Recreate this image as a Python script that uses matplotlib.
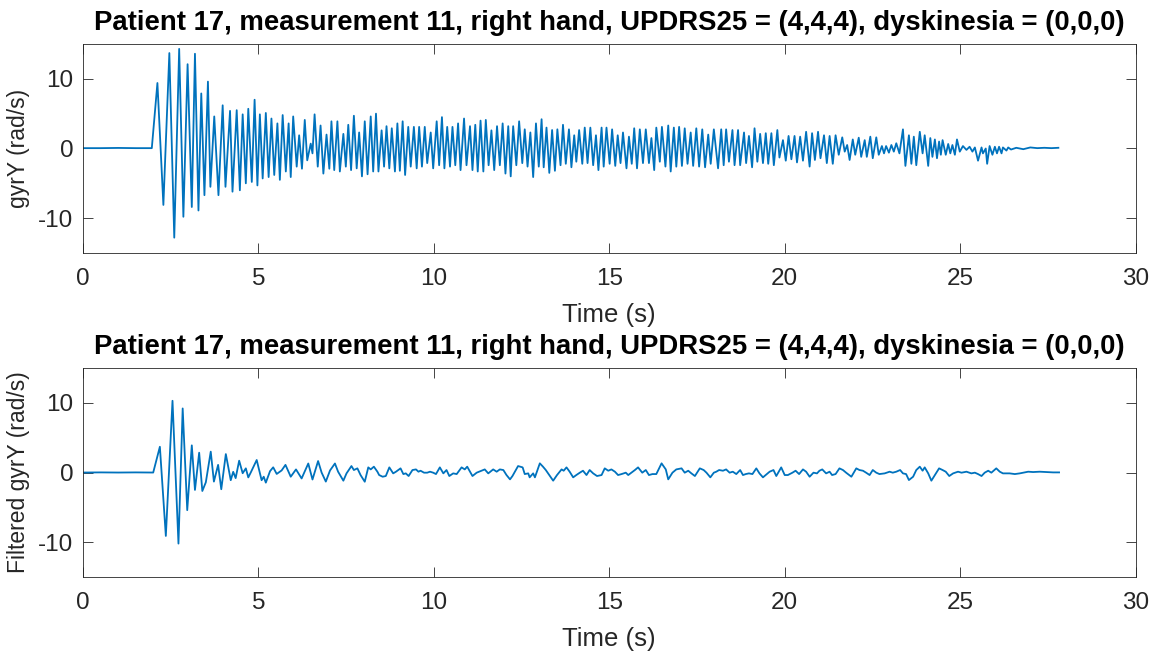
import numpy as np
import matplotlib
matplotlib.use("Agg")
import matplotlib.pyplot as plt

top_t = [0.00, 0.50, 1.00, 1.50, 1.96, 2.12, 2.29, 2.46, 2.60, 2.74, 2.86, 2.98, 3.10, 3.19, 3.29,
         3.37, 3.46, 3.56, 3.63, 3.74, 3.86, 3.98, 4.06, 4.19, 4.26, 4.38, 4.47, 4.55, 4.64, 4.71,
         4.81, 4.89, 4.97, 5.04, 5.12, 5.21, 5.29, 5.37, 5.45, 5.54, 5.61, 5.69, 5.78, 5.86, 5.92,
         5.99, 6.09, 6.16, 6.24, 6.32, 6.39, 6.49, 6.54, 6.60, 6.69, 6.77, 6.85, 6.94, 7.02, 7.08,
         7.16, 7.25, 7.32, 7.42, 7.49, 7.56, 7.64, 7.72, 7.80, 7.87, 7.95, 8.03, 8.11, 8.20, 8.27,
         8.35, 8.42, 8.51, 8.58, 8.65, 8.73, 8.80, 8.89, 8.96, 9.03, 9.11, 9.18, 9.27, 9.34, 9.43,
         9.51, 9.58, 9.66, 9.74, 9.81, 9.91, 9.98, 10.08, 10.15, 10.23, 10.30, 10.38, 10.46, 10.53,
         10.61, 10.69, 10.76, 10.86, 10.93, 11.03, 11.10, 11.18, 11.25, 11.33, 11.41, 11.48, 11.56,
         11.64, 11.72, 11.80, 11.88, 11.96, 12.04, 12.12, 12.19, 12.26, 12.35, 12.43, 12.52, 12.59,
         12.67, 12.75, 12.83, 12.91, 12.99, 13.07, 13.13, 13.21, 13.29, 13.37, 13.45, 13.52, 13.61,
         13.68, 13.76, 13.85, 13.92, 14.00, 14.06, 14.14, 14.23, 14.30, 14.38, 14.46, 14.54, 14.62,
         14.69, 14.78, 14.84, 14.92, 15.01, 15.08, 15.17, 15.24, 15.32, 15.39, 15.49, 15.56, 15.64,
         15.71, 15.79, 15.87, 15.96, 16.04, 16.13, 16.20, 16.28, 16.34, 16.44, 16.50, 16.60, 16.68,
         16.75, 16.84, 16.91, 16.99, 17.07, 17.15, 17.23, 17.32, 17.39, 17.48, 17.56, 17.65, 17.73,
         17.82, 17.89, 17.98, 18.10, 18.19, 18.26, 18.33, 18.41, 18.51, 18.57, 18.67, 18.73, 18.84,
         18.90, 18.98, 19.07, 19.14, 19.22, 19.30, 19.38, 19.46, 19.53, 19.62, 19.69, 19.79, 19.85,
         19.95, 20.03, 20.11, 20.19, 20.28, 20.35, 20.44, 20.52, 20.61, 20.71, 20.78, 20.86, 20.95,
         21.02, 21.12, 21.20, 21.28, 21.37, 21.45, 21.54, 21.64, 21.71, 21.78, 21.85, 21.94, 22.01,
         22.11, 22.18, 22.28, 22.34, 22.44, 22.51, 22.61, 22.68, 22.77, 22.83, 22.89, 22.97, 23.04,
         23.11, 23.18, 23.27, 23.37, 23.44, 23.54, 23.61, 23.68, 23.75, 23.85, 23.93, 23.99, 24.09,
         24.15, 24.21, 24.28, 24.34, 24.40, 24.45, 24.50, 24.59, 24.66, 24.72, 24.78, 24.85, 24.91,
         24.99, 25.08, 25.18, 25.27, 25.35, 25.42, 25.51, 25.61, 25.65, 25.73, 25.77, 25.84, 25.92,
         25.99, 26.05, 26.11, 26.18, 26.22, 26.32, 26.37, 26.45, 26.60, 26.80, 27.00, 27.20, 27.40,
         27.60, 27.80]
top_v = [0.05, 0.05, 0.08, 0.05, 0.05, 9.4, -8.1, 13.7, -12.8, 14.3, -9.8, 12.1, -8.4, 13.6, -8.9,
         7.9, -6.7, 9.6, -5.5, 4.6, -6.7, 6.2, -5.5, 5.4, -6.2, 5.5, -6.0, 4.9, -5.0, 5.7,
         -4.8, 7.0, -5.3, 4.9, -4.3, 5.1, -4.1, 4.3, -3.8, 3.6, -4.5, 4.8, -3.3, 3.6, -4.1,
         4.6, -2.6, 1.9, -2.9, 4.1, -1.7, 0.7, -0.7, 4.9, -2.6, 3.3, -3.6, 2.0, -2.9, 3.9,
         -3.1, 3.9, -3.3, 2.1, -2.6, 3.4, -3.1, 4.7, -2.85, 2.3, -4.0, 3.9, -3.7, 4.6, -3.3,
         5.0, -3.3, 2.6, -2.6, 3.2, -2.85, 2.9, -3.3, 3.6, -3.2, 3.9, -3.8, 3.1, -2.6, 3.1,
         -2.85, 3.1, -2.6, 3.1, -2.1, 2.3, -2.85, 3.9, -2.4, 4.5, -2.85, 3.1, -2.6, 3.1,
         -2.4, 3.6, -3.1, 4.3, -2.4, 3.2, -3.1, 3.4, -3.3, 4.0, -3.3, 4.1, -2.4,
         2.6, -3.1, 3.2, -2.4, 3.6, -3.6, 3.2, -4.0, 3.2, -2.4, 3.9, -2.1, 2.75,
         -2.6, 2.3, -4.1, 3.6, -2.6, 4.2, -2.7, 3.0, -3.5, 2.65, -3.2, 2.75, -2.4,
         3.4, -2.2, 2.75, -2.7, 1.9, -1.9, 2.65, -2.2, 3.0, -2.1, 3.0, -2.4, 1.9,
         -3.1, 3.0, -2.6, 3.0, -2.2, 2.75, -2.5, 1.9, -2.1, 2.3, -2.85, 1.7, -2.2,
         2.9, -2.85, 2.75, -2.1, 2.75, -2.1, 1.5, -3.1, 3.0, -1.9, 3.1, -2.6, 3.3,
         -3.3, 3.0, -2.6, 3.1, -2.5, 2.9, -2.2, 2.3, -2.5, 2.9, -2.6, 2.75, -2.7,
         2.0, -2.2, 2.75, -2.85, 2.75, -2.4, 2.75, -1.9, 2.65, -2.4, 2.65, -2.4, 2.3,
         -2.1, 1.8, -2.7, 2.9, -1.9, 2.1, -2.1, 2.2, -2.2, 2.2, -2.4, 2.65, -1.3,
         1.2, -1.75, 1.8, -1.55, 1.8, -2.0, 1.7, -1.75, 2.4, -2.6, 2.2, -1.65, 2.4,
         -1.4, 1.9, -2.1, 1.8, -2.2, 1.9, -0.9, 1.6, -0.45, 0.5, -1.65, 1.3, -0.9,
         1.55, -1.2, 1.2, -1.2, 1.7, -1.4, 1.6, -0.9, 0.35, -0.7, 0.35, -0.6, 0.5,
         -0.45, 0.75, -0.7, 2.75, -2.5, 1.9, -2.2, 1.7, -2.4, 2.4, -0.7, 1.9, -2.5,
         1.5, -1.2, 1.3, -1.4, 1.0, -0.9, 1.2, -0.9, 0.65, -0.7, 0.5, -0.9, 1.3,
         -0.45, 0.35, -0.2, 0.25, -0.45, 0.15, -1.75, 0.15, -0.7, 0.0, -2.2, 0.35, -0.9,
         0.25, -0.7, 0.25, -0.7, 0.15, -0.3, 0.15, -0.15, 0.1, -0.1, 0.15, 0.05, 0.1,
         0.05, 0.1]

# filtered signal, same way of reading
bot_t = [0.00, 0.50, 1.00, 1.50, 2.00, 2.19, 2.36, 2.55, 2.72, 2.84, 2.97, 3.10, 3.19, 3.31, 3.40,
         3.50, 3.64, 3.73, 3.85, 3.94, 4.07, 4.21, 4.28, 4.35, 4.45, 4.55, 4.64, 4.71, 4.78, 4.95,
         5.09, 5.15, 5.21, 5.33, 5.42, 5.52, 5.66, 5.77, 5.92, 6.07, 6.23, 6.42, 6.54, 6.70, 6.80,
         6.92, 7.04, 7.18, 7.27, 7.42, 7.51, 7.65, 7.72, 7.82, 7.91, 8.03, 8.13, 8.20, 8.29, 8.39,
         8.44, 8.54, 8.63, 8.73, 8.84, 8.92, 9.05, 9.13, 9.20, 9.28, 9.39, 9.49, 9.56, 9.62, 9.72,
         9.81, 9.89, 9.98, 10.06, 10.17, 10.27, 10.36, 10.44, 10.55, 10.65, 10.79, 10.88, 10.95,
         11.03, 11.10, 11.22, 11.36, 11.45, 11.55, 11.69, 11.79, 11.88, 11.98, 12.07, 12.17, 12.24,
         12.40, 12.53, 12.59, 12.69, 12.73, 12.83, 12.88, 13.02, 13.11, 13.19, 13.29, 13.40, 13.51,
         13.64, 13.70, 13.78, 13.87, 13.97, 14.06, 14.16, 14.25, 14.35, 14.44, 14.54, 14.65, 14.78,
         14.87, 14.97, 15.06, 15.16, 15.25, 15.35, 15.47, 15.54, 15.73, 15.82, 15.94, 16.04, 16.13,
         16.23, 16.34, 16.49, 16.61, 16.68, 16.80, 16.91, 17.06, 17.15, 17.25, 17.34, 17.44, 17.58,
         17.69, 17.77, 17.88, 17.98, 18.05, 18.13, 18.24, 18.33, 18.43, 18.52, 18.62, 18.73, 18.81,
         18.89, 18.98, 19.08, 19.19, 19.28, 19.38, 19.49, 19.57, 19.68, 19.76, 19.90, 20.00, 20.09,
         20.22, 20.31, 20.41, 20.52, 20.61, 20.71, 20.82, 20.92, 20.99, 21.07, 21.18, 21.28, 21.35,
         21.45, 21.56, 21.66, 21.75, 21.90, 22.04, 22.13, 22.23, 22.32, 22.42, 22.51, 22.61, 22.70,
         22.85, 22.99, 23.08, 23.18, 23.29, 23.37, 23.46, 23.54, 23.66, 23.75, 23.85, 23.93, 23.99,
         24.09, 24.18, 24.28, 24.40, 24.50, 24.59, 24.69, 24.80, 24.94, 25.04, 25.18, 25.32, 25.42,
         25.51, 25.61, 25.70, 25.80, 25.89, 26.03, 26.13, 26.22, 26.41, 26.56, 26.70, 26.94, 27.08,
         27.27, 27.46, 27.65, 27.82]
bot_v = [0.0, 0.02, 0.0, 0.02, 0.0, 3.7, -9.1, 10.3, -10.2, 9.2, -5.4, 3.9, -2.5, 2.85, -2.65,
         -1.4, 3.0, -1.3, 1.1, -2.4, 2.65, -1.1, 0.1, -0.8, 1.7, -0.1, 0.6, -0.7, 0.0, 1.8,
         -1.1, -0.6, -1.45, 0.2, 0.75, -0.2, 0.3, 1.1, -0.6, 0.45, -0.85, 1.3, -1.0, 1.65, 0.0,
         -1.3, 0.3, 1.3, 0.12, -1.17, -0.12, 0.93, 0.36, 0.6, -0.36, -1.32, 0.74, 0.45, 0.84, 0.12,
         -0.36, -0.6, -0.5, 0.74, -0.12, 0.12, 0.6, -0.22, -0.12, -0.5, 0.36, 0.45, 0.12, 0.26, -0.02,
         -0.02, 0.12, -0.02, -0.22, 0.74, -0.12, 0.36, -0.5, -0.12, -0.22, 0.74, 0.45, 0.84,
         0.12, -0.5, -0.02, 0.26, 0.45, -0.12, 0.45, 0.12, 0.45, 0.36, -0.36, -0.98, -0.5,
         0.93, 0.74, -0.22, -0.12, -0.69, -0.12, -0.69, 1.32, 0.84, 0.36, -0.36, -1.17, -0.36,
         0.45, 0.26, 0.74, 0.12, -0.69, -0.36, -0.02, 0.26, -0.36, 0.36, -0.12, -0.5, -0.36,
         0.6, 0.26, 0.45, 0.12, -0.36, -0.22, -0.02, -0.36, 0.36, 0.74, -0.02, 0.36, -0.36,
         -0.22, -0.22, 1.32, 0.45, -0.98, -0.02, 0.45, 0.6, -0.02, 0.26, -0.12, -0.5, 0.6,
         0.36, -0.02, -0.69, -0.02, 0.12, 0.36, 0.26, 0.45, -0.02, 0.12, -0.22, 0.36, -0.36,
         -0.22, -0.12, -0.22, 0.6, -0.12, -0.69, -0.22, 0.12, 0.36, -0.5, 0.74, -0.36, -0.36,
         -0.02, 0.26, -0.22, 0.45, 0.12, -0.6, -0.02, -0.12, 0.26, 0.45, -0.12, 0.12, -0.36,
         -0.22, 0.6, 0.36, -0.02, -0.6, 0.6, 0.36, 0.26, -0.02, -0.36, 0.36, -0.02, -0.22,
         -0.12, 0.12, -0.02, 0.12, 0.36, -0.12, -0.22, -1.08, -0.6, 0.36, 0.84, 0.26, 0.74,
         -0.12, -1.17, -0.36, 0.6, 0.36, 0.12, -0.5, -0.12, 0.12, -0.02, 0.12, -0.12, -0.02,
         -0.22, -0.5, -0.02, 0.26, -0.02, 0.6, 0.12, -0.12, -0.12, -0.22, -0.12, 0.12, 0.07,
         0.12, 0.07, 0.02, 0.02]

title_txt = "Patient 17, measurement 11, right hand, UPDRS25 = (4,4,4), dyskinesia = (0,0,0)"
x_ticks = [0, 5, 10, 15, 20, 25, 30]
y_ticks = [-10, 0, 10]
y_labels = ["gyrY (rad/s)", "Filtered gyrY (rad/s)"]

LINE_COLOR = "#0072BD"
AX_COLOR = "#262626"


def style_axis(ax, ylab):
    ax.set_xlim(0, 30)
    ax.set_ylim(-15, 15)
    ax.set_xticks(x_ticks)
    ax.set_yticks(y_ticks)
    ax.set_yticklabels([str(v) for v in y_ticks])
    ax.tick_params(direction="in", top=True, right=True, length=7, width=0.6,
                   colors=AX_COLOR, labelsize=17.5)
    ax.tick_params(axis="x", pad=11)
    ax.tick_params(axis="y", pad=7)
    for sp in ax.spines.values():
        sp.set_color(AX_COLOR)
        sp.set_linewidth(0.6)
    ax.set_title(title_txt, fontsize=19.8, fontweight="bold", pad=10)
    ax.set_xlabel("Time (s)", fontsize=18.5, color=AX_COLOR, labelpad=9)
    ax.set_ylabel(ylab, fontsize=16.5, color=AX_COLOR, labelpad=6)


def main():
    plt.rcParams["font.family"] = ["Liberation Sans", "DejaVu Sans"]
    plt.rcParams["axes.unicode_minus"] = False

    fig = plt.figure(figsize=(11.63, 6.52), dpi=100)
    ax1 = fig.add_axes([0.0714, 0.612, 0.905, 0.3205])
    ax2 = fig.add_axes([0.0714, 0.115, 0.905, 0.3205])

    ax1.plot(top_t, top_v, color=LINE_COLOR, lw=1.3)
    ax2.plot(bot_t, bot_v, color=LINE_COLOR, lw=1.3)

    style_axis(ax1, y_labels[0])
    style_axis(ax2, y_labels[1])

    fig.savefig("out.png", dpi=100)


if __name__ == "__main__":
    main()
